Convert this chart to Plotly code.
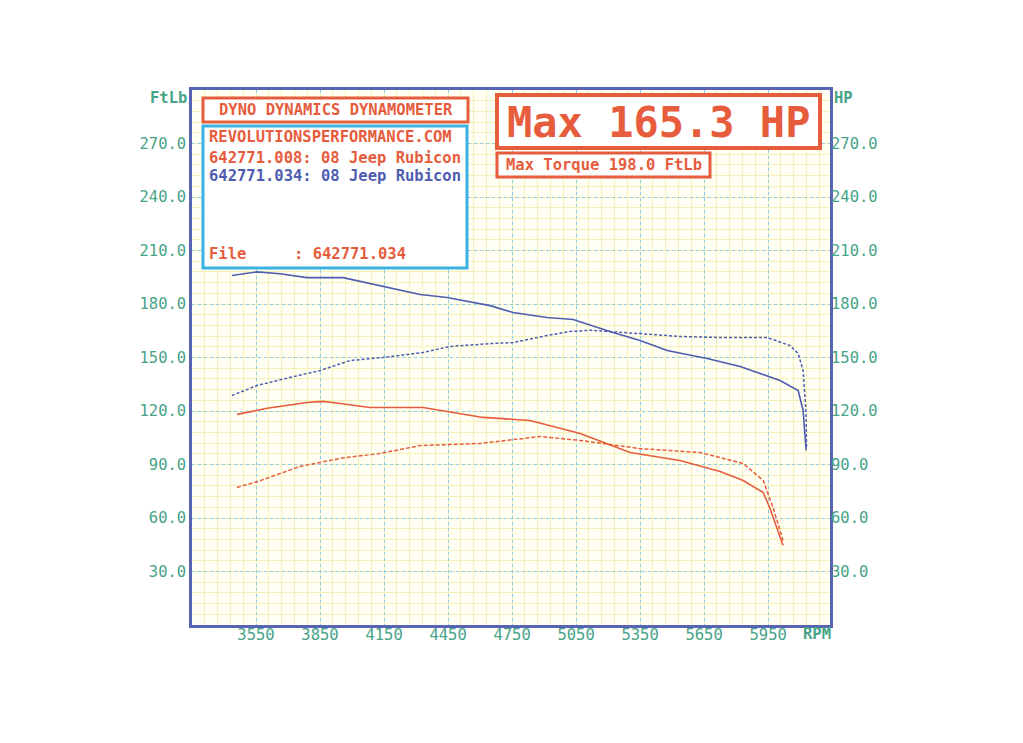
import plotly.graph_objects as go

# ---------------- data ----------------
rpm_tq_034 = [3437, 3555, 3662, 3789, 3958, 4145, 4319, 4445, 4647, 4755, 4914, 5036,
              5223, 5350, 5477, 5664, 5819, 6006, 6091, 6114, 6128]
tq_034 = [196.0, 198.0, 197.0, 194.8, 194.8, 189.8, 185.3, 183.6, 179.1, 175.2, 172.4, 171.3,
          164.0, 159.5, 153.9, 149.4, 144.9, 137.1, 131.5, 120.3, 97.9]

rpm_hp_034 = [3437, 3555, 3709, 3850, 3991, 4145, 4333, 4459, 4647, 4755, 4914, 5022,
              5116, 5209, 5350, 5537, 5725, 5945, 6053, 6091, 6114, 6128, 6130]
hp_034 = [128.7, 134.3, 138.8, 142.7, 148.3, 150.0, 152.8, 156.2, 157.8, 158.4, 162.3, 164.6,
          165.3, 164.6, 163.5, 161.8, 161.2, 161.2, 156.7, 152.2, 142.7, 118.6, 99.5]

rpm_tq_008 = [3461, 3602, 3789, 3864, 3944, 4084, 4333, 4445, 4614, 4834, 5069, 5303,
              5537, 5725, 5833, 5927, 5959, 6020]
tq_008 = [118.1, 121.5, 124.8, 125.4, 124.2, 122.0, 122.0, 119.7, 116.4, 114.7, 107.4, 96.7,
          92.2, 86.1, 81.0, 74.3, 65.3, 44.6]

rpm_hp_008 = [3461, 3559, 3756, 3944, 4131, 4319, 4600, 4881, 5069, 5350, 5631, 5833,
              5927, 5973, 6020]
hp_008 = [77.1, 80.5, 88.9, 93.4, 96.2, 100.6, 101.8, 105.7, 103.5, 98.9, 96.7, 90.6,
          81.0, 65.9, 47.4]

x_ticks = [3550, 3850, 4150, 4450, 4750, 5050, 5350, 5650, 5950]
y_ticks = [30, 60, 90, 120, 150, 180, 210, 240, 270]

title_text = "DYNO DYNAMICS DYNAMOMETER"
site_text = "REVOLUTIONSPERFORMANCE.COM"
run_008 = "642771.008: 08 Jeep Rubicon"
run_034 = "642771.034: 08 Jeep Rubicon"
file_label = "File"
file_value = ": 642771.034"
max_hp_text = "Max 165.3 HP"
max_tq_text = "Max Torque 198.0 FtLb"

# ---------------- style ----------------
ORANGE = "#e65c3c"
BLUE = "#4f5db0"
CYAN = "#3cb2e2"
GREEN = "#46a387"
FRAME = "#5863b4"
MONO = "DejaVu Sans Mono"

OFF = 8                       # page body margin of the html page
W, H = 1023 - OFF, 743 - OFF
PL, PT, PR, PB = 192, 90, 830, 625  # plot box in page pixels
L, T = PL - OFF, PT - OFF
PW, PH = PR - PL, PB - PT
R, B = W - L - PW, H - T - PH


def px(x):
    return (x - PL) / PW


def py(y):
    return (PB - y) / PH


fig = go.Figure()
fig.add_trace(go.Scatter(x=rpm_tq_034, y=tq_034, mode="lines",
                         line=dict(color=BLUE, width=1.6), name="Torque .034"))
fig.add_trace(go.Scatter(x=rpm_hp_034, y=hp_034, mode="lines", yaxis="y2",
                         line=dict(color=BLUE, width=1.5, dash="3px,2px"), name="HP .034"))
fig.add_trace(go.Scatter(x=rpm_tq_008, y=tq_008, mode="lines",
                         line=dict(color=ORANGE, width=1.6), name="Torque .008"))
fig.add_trace(go.Scatter(x=rpm_hp_008, y=hp_008, mode="lines", yaxis="y2",
                         line=dict(color=ORANGE, width=1.5, dash="4px,2px"), name="HP .008"))

tickfont = dict(family=MONO, size=15.5, color=GREEN)
axis_common = dict(showline=True, linecolor=FRAME, linewidth=2.5, mirror=True,
                   ticks="", zeroline=False)
minor_grid = dict(showgrid=True, gridcolor="#f5f1b6", gridwidth=1, griddash="solid")

fig.update_layout(
    width=W, height=H,
    margin=dict(l=L, r=R, t=T, b=B, pad=0),
    paper_bgcolor="white",
    plot_bgcolor="#fffff4",
    showlegend=False,
    xaxis=dict(range=[3250, 6240], tickmode="array", tickvals=x_ticks,
               ticktext=[str(v) for v in x_ticks], tickfont=tickfont,
               ticklabelstandoff=-6,
               showgrid=True, gridcolor="#8ccbea", gridwidth=1, griddash="dot",
               minor=dict(tickmode="linear", tick0=3250, dtick=60, **minor_grid),
               **axis_common),
    yaxis=dict(range=[0, 300], tickmode="array", tickvals=y_ticks,
               ticktext=[f"{v:.1f}" for v in y_ticks], tickfont=tickfont,
               showgrid=True, gridcolor="#8ccbea", gridwidth=1, griddash="dot",
               minor=dict(tickmode="linear", tick0=0, dtick=6, **minor_grid),
               **axis_common),
    yaxis2=dict(range=[0, 300], overlaying="y", side="right", tickmode="array",
                tickvals=y_ticks, ticktext=[f"{v:.1f}" for v in y_ticks],
                tickfont=tickfont, showgrid=False, showline=False, ticks="",
                zeroline=False),
)

shapes = [
    dict(type="rect", xref="paper", yref="paper", x0=px(203), x1=px(468), y0=py(122), y1=py(98),
         line=dict(color=ORANGE, width=3), fillcolor="white", layer="above"),
    dict(type="rect", xref="paper", yref="paper", x0=px(203), x1=px(467), y0=py(268), y1=py(126),
         line=dict(color=CYAN, width=3), fillcolor="white", layer="above"),
    dict(type="rect", xref="paper", yref="paper", x0=px(497), x1=px(820), y0=py(148), y1=py(95),
         line=dict(color=ORANGE, width=4), fillcolor="white", layer="above"),
    dict(type="rect", xref="paper", yref="paper", x0=px(497), x1=px(710), y0=py(177), y1=py(153),
         line=dict(color=ORANGE, width=3), fillcolor="white", layer="above"),
]
fig.update_layout(shapes=shapes)


def txt(x, y, s, color, size=15.5, anchor="left"):
    fig.add_annotation(xref="paper", yref="paper", x=px(x), y=py(y), text=s,
                       showarrow=False, xanchor=anchor, yanchor="middle",
                       font=dict(family=MONO, size=size, color=color))


txt(335.5, 110, f"<b>{title_text}</b>", ORANGE, 15.5, "center")
txt(207, 137, f"<b>{site_text}</b>", ORANGE)
txt(207, 158, f"<b>{run_008}</b>", ORANGE)
txt(207, 176, f"<b>{run_034}</b>", BLUE)
txt(207, 254, f"<b>{file_label}</b>", ORANGE)
txt(292, 254, f"<b>{file_value}</b>", ORANGE)
txt(658.5, 122, f"<b>{max_hp_text}</b>", ORANGE, 42, "center")
txt(603.5, 165, f"<b>{max_tq_text}</b>", ORANGE, 15.5, "center")
txt(189, 98, "<b>FtLb</b>", GREEN, 15.5, "right")
txt(832, 98, "<b>HP</b>", GREEN, 15.5, "left")
txt(801, 634, "<b>RPM</b>", GREEN, 15.5, "left")

fig.write_html("out.html")
